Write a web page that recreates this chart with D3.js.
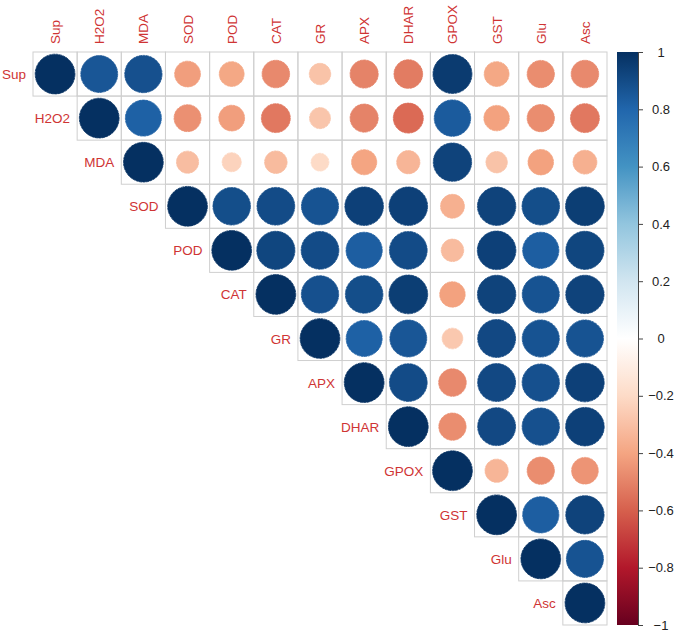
<!DOCTYPE html>
<html><head><meta charset="utf-8">
<script src="https://cdn.jsdelivr.net/npm/d3@7"></script>
<style>body{margin:0;background:#fff;}svg{display:block;font-family:"Liberation Sans",Arial,sans-serif;}</style>
</head><body><svg id="c" width="677" height="632"></svg>
<script>
const vars = ["Sup","H2O2","MDA","SOD","POD","CAT","GR","APX","DHAR","GPOX","GST","Glu","Asc"];
// upper-triangle correlations, row i starts at column i
const rowSup  = [1, 0.86, 0.88, -0.42, -0.39, -0.48, -0.29, -0.5, -0.52, 0.96, -0.39, -0.47, -0.48];
const rowH2O2 = [1, 0.82, -0.46, -0.42, -0.53, -0.28, -0.5, -0.57, 0.84, -0.41, -0.47, -0.53];
const rowMDA  = [1, -0.31, -0.23, -0.32, -0.2, -0.4, -0.34, 0.93, -0.29, -0.41, -0.36];
const rowSOD  = [1, 0.89, 0.9, 0.87, 0.94, 0.94, -0.36, 0.93, 0.89, 0.95];
const rowPOD  = [1, 0.92, 0.9, 0.83, 0.9, -0.32, 0.94, 0.83, 0.92];
const rowCAT  = [1, 0.88, 0.89, 0.95, -0.41, 0.93, 0.87, 0.93];
const rowGR   = [1, 0.82, 0.86, -0.27, 0.91, 0.87, 0.87];
const rowAPX  = [1, 0.9, -0.48, 0.91, 0.88, 0.94];
const rowDHAR = [1, -0.47, 0.91, 0.88, 0.94];
const rowGPOX = [1, -0.34, -0.47, -0.45];
const rowGST  = [1, 0.83, 0.93];
const rowGlu  = [1, 0.87];
const rowAsc  = [1];
const rows = [rowSup,rowH2O2,rowMDA,rowSOD,rowPOD,rowCAT,rowGR,rowAPX,rowDHAR,rowGPOX,rowGST,rowGlu,rowAsc];
const legendTicks = [1,0.8,0.6,0.4,0.2,0,-0.2,-0.4,-0.6,-0.8,-1];
const palette = ["#67001F","#B2182B","#D6604D","#F4A582","#FDDBC7","#FFFFFF","#D1E5F0","#92C5DE","#4393C3","#2166AC","#053061"];

const svg = d3.select("#c");
const x = d3.scaleBand().domain(vars).range([33, 607]).padding(0);
const y = d3.scaleBand().domain(vars).range([52, 625]).padding(0);
const color = d3.scaleLinear().domain(d3.range(palette.length).map(i => -1 + 2*i/(palette.length-1))).range(palette).clamp(true);

const cells = [];
rows.forEach((r, i) => r.forEach((v, k) => cells.push({row: vars[i], col: vars[i+k], v})));

const labCol = "#cf3434";
// grid cells
svg.append("g").selectAll("rect").data(cells).join("rect")
  .attr("x", d => x(d.col)).attr("y", d => y(d.row))
  .attr("width", x.bandwidth()).attr("height", y.bandwidth())
  .attr("fill", "none").attr("stroke", "#cfcfcf").attr("stroke-width", 1);
// circles
svg.append("g").selectAll("circle").data(cells).join("circle")
  .attr("cx", d => x(d.col) + x.bandwidth()/2)
  .attr("cy", d => y(d.row) + y.bandwidth()/2)
  .attr("r", d => 0.45 * Math.sqrt(Math.abs(d.v)) * x.bandwidth())
  .attr("fill", d => color(d.v))
  .attr("stroke", d => color(d.v)).attr("stroke-width", 0.8)
  .attr("stroke-dasharray", "3,0.6");
// column labels
svg.append("g").selectAll("text").data(vars).join("text")
  .attr("transform", d => `translate(${x(d) + x.bandwidth()/2 + 5},44) rotate(-90)`)
  .attr("text-anchor", "start").attr("font-size", "13.5px").attr("fill", labCol).text(d => d);
// row labels
svg.append("g").selectAll("text").data(vars).join("text")
  .attr("x", (d, i) => x(d) - 7).attr("y", d => y(d) + y.bandwidth()/2 + 5)
  .attr("text-anchor", "end").attr("font-size", "13.5px").attr("fill", labCol).text(d => d);

// colour legend
const ly = d3.scaleLinear().domain([-1, 1]).range([625, 52]);
const defs = svg.append("defs");
const grad = defs.append("linearGradient").attr("id", "g").attr("x1", 0).attr("y1", 1).attr("x2", 0).attr("y2", 0);
d3.range(0, 1.0001, 0.05).forEach(t => grad.append("stop").attr("offset", t).attr("stop-color", color(-1 + 2*t)));
svg.append("rect").attr("x", 617).attr("y", ly(1)).attr("width", 21).attr("height", ly(-1) - ly(1)).attr("fill", "url(#g)");
const axis = d3.axisRight(ly).tickValues(legendTicks).tickSize(5).tickFormat(d => d3.format("")(d));
const ag = svg.append("g").attr("transform", "translate(638,0)").call(axis);
ag.select(".domain").attr("stroke", "#444");
ag.selectAll(".tick line").attr("stroke", "#444");
ag.selectAll(".tick text").attr("x", 23).attr("text-anchor", "middle").attr("font-size", "13px")
  .attr("font-family", "Liberation Sans, Arial, sans-serif").attr("fill", "#222");
</script></body></html>
